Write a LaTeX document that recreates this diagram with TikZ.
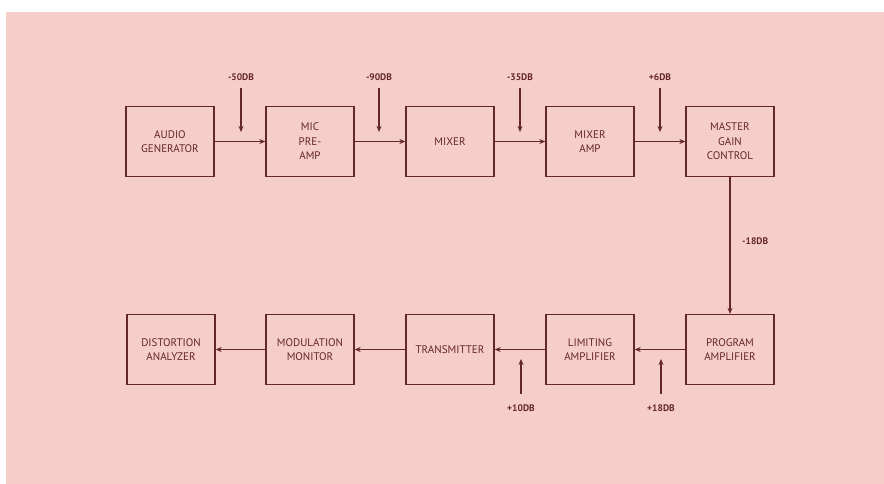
\documentclass[tikz,border=0pt]{standalone}
\usepackage{fontspec}
\setmainfont{PT Sans}
\usetikzlibrary{arrows.meta}
\definecolor{paper}{RGB}{246,206,201}
\definecolor{ink}{RGB}{100,38,38}
\tikzset{
  blk/.style={draw=ink, line width=1.3pt, minimum width=88pt, minimum height=70pt, inner sep=0pt, align=center, text=ink, font=\fontsize{11}{14.5}\selectfont},
  flow/.style={draw=ink, line width=1.2pt, -{Stealth[length=6pt,width=5pt]}},
  lvl/.style={text=ink, font=\bfseries\fontsize{9.5}{11}\selectfont, inner sep=1pt}
}
\begin{document}
\begin{tikzpicture}[x=1pt,y=-1pt]
\useasboundingbox (0,0) rectangle (884,484);
\fill[white] (0,0) rectangle (884,484);
\fill[paper] (6,12) rectangle (884,484);
% top row
\node[blk] (ag) at (170,141.5) {AUDIO\\GENERATOR};
\node[blk] (mic) at (310,141.5) {MIC\\PRE-\\AMP};
\node[blk] (mix) at (450,141.5) {MIXER};
\node[blk] (mixamp) at (590,141.5) {MIXER\\AMP};
\node[blk] (mgc) at (730,141.5) {MASTER\\GAIN\\CONTROL};
% bottom row
\node[blk] (dist) at (171,349.5) {DISTORTION\\ANALYZER};
\node[blk] (mod) at (310,349.5) {MODULATION\\MONITOR};
\node[blk] (tx) at (450,349.5) {TRANSMITTER};
\node[blk] (lim) at (590,349.5) {LIMITING\\AMPLIFIER};
\node[blk] (prog) at (730,349.5) {PROGRAM\\AMPLIFIER};
% main flow
\draw[flow] (ag) -- (mic);
\draw[flow] (mic) -- (mix);
\draw[flow] (mix) -- (mixamp);
\draw[flow] (mixamp) -- (mgc);
\draw[flow] (mgc) -- (prog);
\draw[flow] (prog) -- (lim);
\draw[flow] (lim) -- (tx);
\draw[flow] (tx) -- (mod);
\draw[flow] (mod) -- (dist);
% level labels and injection arrows
\node[lvl] (l1) at (241,77) {-50DB};
\coordinate (t1) at (241,132);
\draw[flow] (l1.south |- 0,88) -- (t1);
\node[lvl] (l2) at (379,77) {-90DB};
\coordinate (t2) at (379,132);
\draw[flow] (l2.south |- 0,88) -- (t2);
\node[lvl] (l3) at (520,77) {-35DB};
\coordinate (t3) at (520,132);
\draw[flow] (l3.south |- 0,88) -- (t3);
\node[lvl] (l4) at (660,77) {+6DB};
\coordinate (t4) at (660,132);
\draw[flow] (l4.south |- 0,88) -- (t4);
\node[lvl, anchor=west] (l5) at (741,241) {-18DB};
\node[lvl] (l6) at (521,408) {+10DB};
\coordinate (t6) at (521,359);
\draw[flow] (l6.north |- 0,394) -- (t6);
\node[lvl] (l7) at (661,408) {+18DB};
\coordinate (t7) at (661,359);
\draw[flow] (l7.north |- 0,394) -- (t7);
\end{tikzpicture}
\end{document}
